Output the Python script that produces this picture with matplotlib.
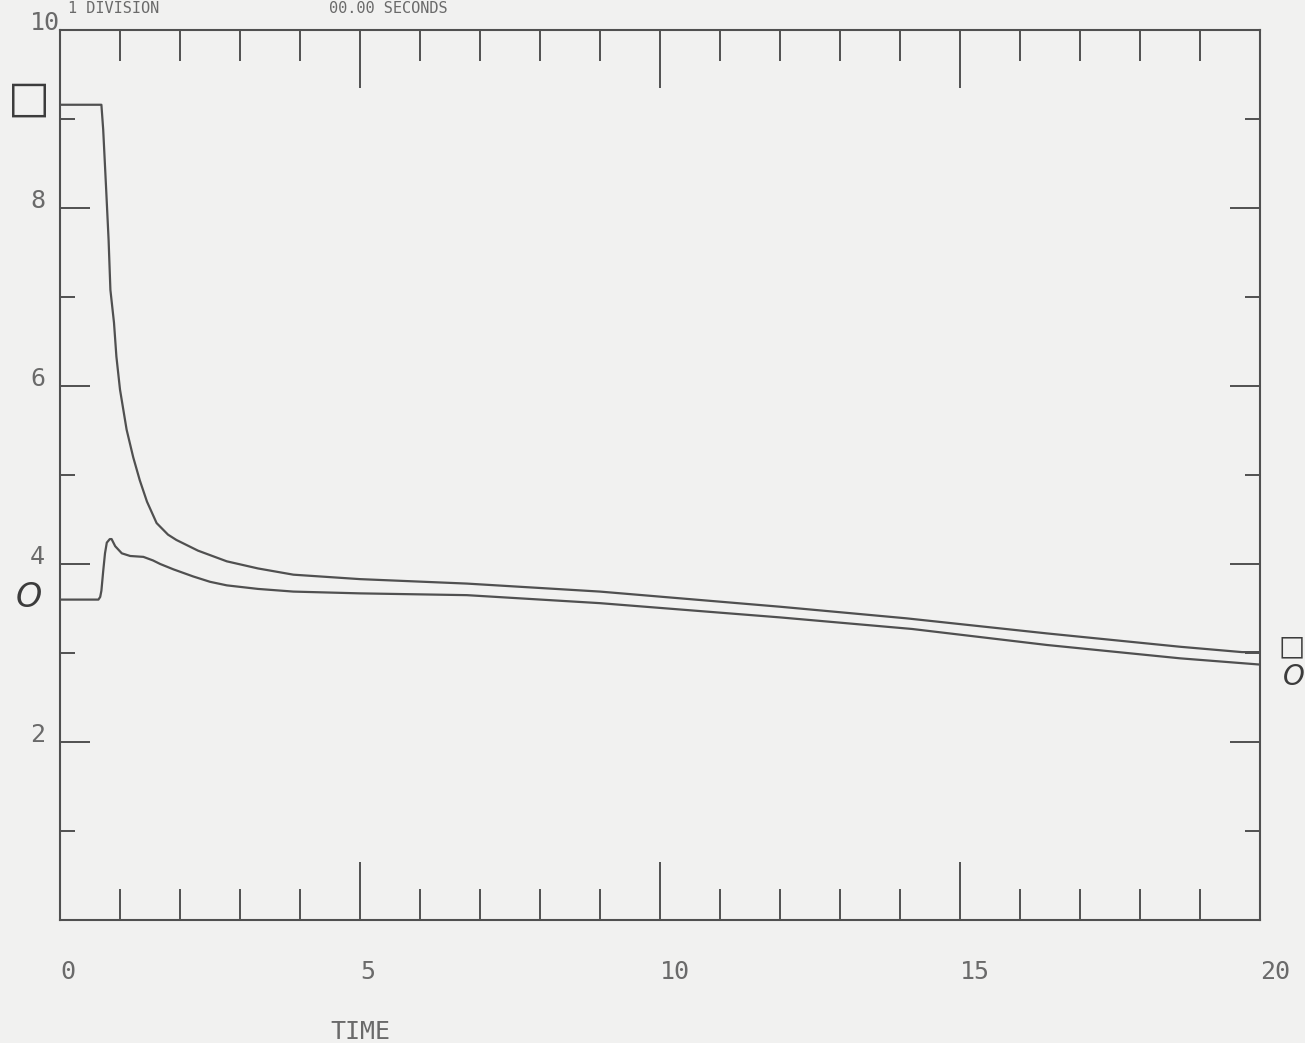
import matplotlib
matplotlib.use("Agg")
import matplotlib.pyplot as plt
from matplotlib.ticker import FixedLocator

# Time axis (seconds) and the two traced quantities
t_square = [0.0, 0.69, 0.72, 0.77, 0.81, 0.84, 0.90, 0.94, 1.00, 1.11, 1.22,
            1.33, 1.45, 1.61, 1.80, 1.94, 2.30, 2.78, 3.30, 3.89, 5.00, 6.78,
            9.00, 12.00, 14.10, 16.45, 18.67, 19.70, 20.0]
v_square = [9.16, 9.16, 8.88, 8.20, 7.64, 7.08, 6.71, 6.33, 5.96, 5.51, 5.20,
            4.94, 4.70, 4.46, 4.33, 4.27, 4.15, 4.03, 3.95, 3.88, 3.83, 3.78,
            3.69, 3.52, 3.39, 3.22, 3.07, 3.01, 3.01]

t_circle = [0.0, 0.64, 0.67, 0.69, 0.72, 0.75, 0.78, 0.83, 0.86, 0.92, 1.03,
            1.17, 1.39, 1.55, 1.67, 1.89, 2.22, 2.50, 2.78, 3.30, 3.89, 5.00,
            6.78, 9.00, 12.00, 14.20, 16.45, 18.67, 20.0]
v_circle = [3.60, 3.60, 3.63, 3.70, 3.92, 4.12, 4.24, 4.28, 4.28, 4.20, 4.12,
            4.09, 4.08, 4.04, 4.00, 3.94, 3.86, 3.80, 3.76, 3.72, 3.69, 3.67,
            3.65, 3.56, 3.40, 3.27, 3.09, 2.94, 2.87]

x_major = [0, 5, 10, 15, 20]
x_minor = [1, 2, 3, 4, 6, 7, 8, 9, 11, 12, 13, 14, 16, 17, 18, 19]
x_labels = ["0", "5", "10", "15", "20"]
y_major = [2, 4, 6, 8, 10]
y_minor = [1, 3, 5, 7, 9]
y_labels = ["2", "4", "6", "8", "10"]

paper = "#f1f1f0"
ink = "#505050"
text_ink = "#6a6a6a"
mono = "DejaVu Sans Mono"

fig = plt.figure(figsize=(13.05, 10.43), dpi=100, facecolor=paper)
ax = fig.add_axes([60 / 1305, 1 - 920 / 1043, 1200 / 1305, 890 / 1043])
ax.set_facecolor(paper)

ax.plot(t_square, v_square, color=ink, lw=1.6, solid_joinstyle="round")
ax.plot(t_circle, v_circle, color=ink, lw=1.6, solid_joinstyle="round")

ax.set_xlim(0, 20)
ax.set_ylim(0, 10)

for s in ax.spines.values():
    s.set_color(ink)
    s.set_linewidth(1.5)

ax.xaxis.set_major_locator(FixedLocator(x_major))
ax.xaxis.set_minor_locator(FixedLocator(x_minor))
ax.yaxis.set_major_locator(FixedLocator(y_major))
ax.yaxis.set_minor_locator(FixedLocator(y_minor))
ax.set_xticklabels(x_labels, ha="left", family=mono, fontsize=18, color=text_ink)
ax.set_yticklabels(y_labels, ha="left", va="baseline", family=mono,
                   fontsize=18, color=text_ink)

ax.tick_params(axis="x", which="major", direction="in", length=42, width=1.4,
               color=ink, top=True, bottom=True, pad=29)
ax.tick_params(axis="x", which="minor", direction="in", length=22, width=1.4,
               color=ink, top=True, bottom=True)
ax.tick_params(axis="y", which="major", direction="in", length=21.5, width=1.4,
               color=ink, left=True, right=True, pad=21.5)
ax.tick_params(axis="y", which="minor", direction="in", length=11, width=1.4,
               color=ink, left=True, right=True)

ax.set_xlabel("TIME", family=mono, fontsize=18, color=text_ink)
ax.xaxis.set_label_coords(0.25, -0.112)

# Curve identifiers at both ends of each trace
sym_kw = dict(textcoords="offset pixels", annotation_clip=False,
              color="#3c3c3c", ha="center", va="center")
ax.annotate("\u25a1", xy=(t_square[0], v_square[0]), xytext=(-31, 6),
            fontsize=32, family="DejaVu Sans", **sym_kw)
ax.annotate("O", xy=(t_circle[0], v_circle[0]), xytext=(-31, 2),
            fontsize=24, family="DejaVu Sans", style="italic",
            fontweight="light", **sym_kw)
ax.annotate("\u25a1", xy=(t_square[-1], v_square[-1]), xytext=(32, 6),
            fontsize=20, family="DejaVu Sans", **sym_kw)
ax.annotate("O", xy=(t_circle[-1], v_circle[-1]), xytext=(34, -12),
            fontsize=20, family="DejaVu Sans", style="italic", **sym_kw)

# Header line along the top edge of the sheet
fig.text(68 / 1305, 1 - 13 / 1043, "1 DIVISION", family=mono, fontsize=11,
         color=text_ink, va="baseline", ha="left")
fig.text(329 / 1305, 1 - 13 / 1043, "00.00 SECONDS", family=mono, fontsize=11,
         color=text_ink, va="baseline", ha="left")

fig.savefig("out.png", dpi=100, facecolor=paper)
